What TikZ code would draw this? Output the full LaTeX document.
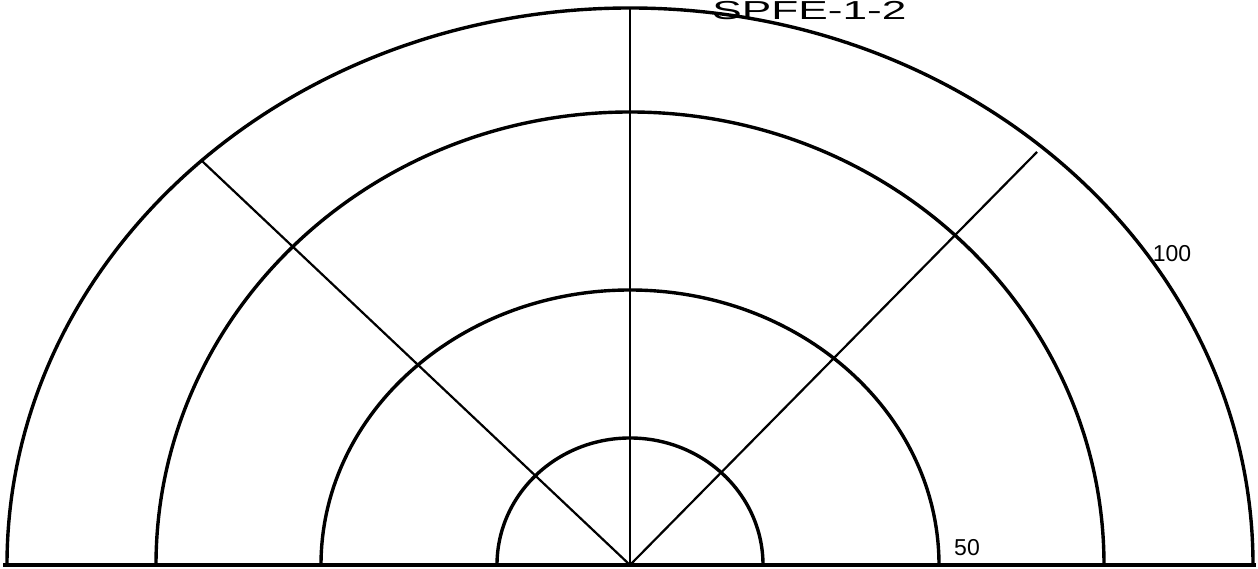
\documentclass[tikz,border=0pt]{standalone}
\usepackage{fontspec}
\setmainfont{Liberation Sans}
\begin{document}
\begin{tikzpicture}[x=1pt,y=1pt,
  ring/.style={line width=3.4pt},
  spoke/.style={line width=2.2pt},
  lbl/.style={font=\fontsize{23}{23}\selectfont,inner sep=0pt}]
\useasboundingbox (0,-4) rectangle (1258,565);
\coordinate (O) at (630,0);

% rings
\draw[ring] (O) ++(623,0) arc[start angle=0,end angle=180,x radius=623,y radius=557];
\draw[ring] (O) ++(474,0) arc[start angle=0,end angle=180,x radius=474,y radius=453];
\draw[ring] (O) ++(309,0) arc[start angle=0,end angle=180,x radius=309,y radius=275];
\draw[ring] (O) ++(133,0) arc[start angle=0,end angle=180,x radius=133,y radius=127];
\draw[ring] (3,0)--(1256,0);

% spokes
\coordinate (top) at (630,557);
\coordinate (nw) at (202,404);
\coordinate (ne) at (1037,413);
\draw[spoke] (O)--(top);
\draw[spoke] (O)--(nw);
\draw[spoke] (O)--(ne);

\node[lbl] (l100) at (1172,311) {100};
\node[lbl] (l50) at (967,17) {50};
\node[font=\fontsize{26}{26}\selectfont,anchor=base west,inner sep=0pt,xscale=1.7,transform shape] (tag) at (712,545) {SPFE-1-2};
\end{tikzpicture}
\end{document}
